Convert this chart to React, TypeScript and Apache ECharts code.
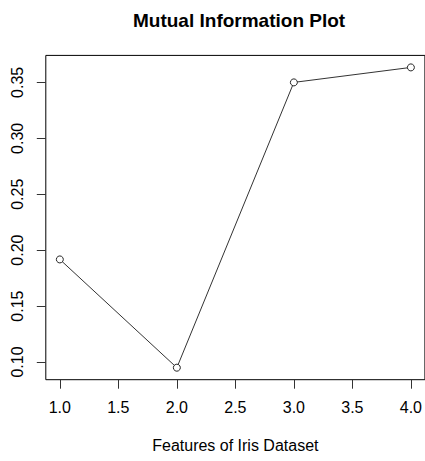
import React, { useEffect, useRef } from "react";
import * as echarts from "echarts";

const features = [1, 2, 3, 4];
const mutualInfo = [0.1917, 0.0949, 0.35, 0.3634];
const xTicks = [1.0, 1.5, 2.0, 2.5, 3.0, 3.5, 4.0];
const yTicks = [0.1, 0.15, 0.2, 0.25, 0.3, 0.35];

const FONT = "'Liberation Sans', Arial, sans-serif";

export default function App() {
  const ref = useRef<HTMLDivElement>(null);
  useEffect(() => {
    if (!ref.current) return;
    const chart = echarts.init(ref.current, null, { renderer: "svg" });
    const xMin = 1 - 0.04 * 3;
    const xMax = 4 + 0.04 * 3;
    const lo = Math.min(...mutualInfo);
    const hi = Math.max(...mutualInfo);
    const yMin = lo - 0.04 * (hi - lo);
    const yMax = hi + 0.04 * (hi - lo);
    chart.setOption({
      animation: false,
      backgroundColor: "#fff",
      title: {
        text: "Mutual Information Plot",
        left: 128,
        top: 6,
        textStyle: { fontFamily: FONT, fontSize: 19, fontWeight: "bold", color: "#000" },
      },
      grid: {
        left: 45.8,
        top: 55.4,
        width: 381.4,
        height: 324.3,
        show: true,
        borderColor: "#000",
        borderWidth: 1,
        backgroundColor: "transparent",
      },
      xAxis: {
        type: "value",
        min: xMin,
        max: xMax,
        name: "Features of Iris Dataset",
        nameLocation: "middle",
        nameGap: 58,
        nameTextStyle: { fontFamily: FONT, fontSize: 16, color: "#000", verticalAlign: "top" },
        axisLine: { show: false },
        splitLine: { show: false },
        axisTick: { show: true, length: 9, customValues: xTicks, lineStyle: { color: "#333" } },
        axisLabel: {
          customValues: xTicks,
          formatter: (v: number) => v.toFixed(1),
          fontFamily: FONT,
          fontSize: 16,
          color: "#000",
          margin: 20,
        },
      },
      yAxis: {
        type: "value",
        min: yMin,
        max: yMax,
        axisLine: { show: false },
        splitLine: { show: false },
        axisTick: { show: true, length: 9, customValues: yTicks, lineStyle: { color: "#333" } },
        axisLabel: {
          customValues: yTicks,
          formatter: (v: number) => v.toFixed(2),
          rotate: 90,
          fontFamily: FONT,
          fontSize: 16,
          color: "#000",
          margin: 20,
        },
      },
      series: [
        {
          type: "line",
          data: features.map((f, i) => [f, mutualInfo[i]]),
          symbol: "circle",
          symbolSize: 7,
          showSymbol: true,
          lineStyle: { color: "#333", width: 1 },
          itemStyle: { color: "#fff", borderColor: "#222", borderWidth: 1 },
          emphasis: { disabled: true },
        },
      ],
    });
    return () => chart.dispose();
  }, []);
  return (
    <div
      ref={ref}
      style={{ position: "absolute", left: 0, top: 0, width: 425, height: 461 }}
    />
  );
}
